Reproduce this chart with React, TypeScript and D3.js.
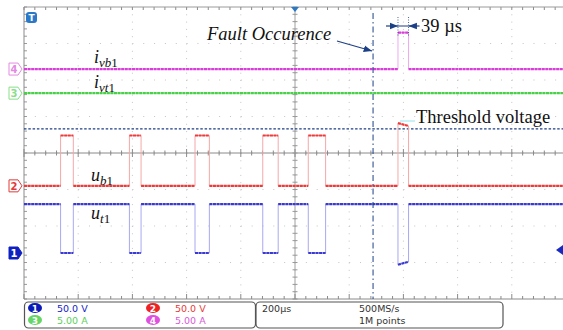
import React from "react";
import * as d3 from "d3";

// time in µs, 200 µs/div, 10 divisions
const gateOn = [135, 389, 631, 881, 1049];
const gateOff = [182, 432, 684, 938, 1113];
const faultStart = 1380;
const faultEnd = 1419;
const faultOccurence = 1288;

// levels (V or A)
const ub1Levels = { off: 0, on: 69, fault: [86, 82] };
const ut1Levels = { off: 67, on: 0, fault: [-16, -12] };
const ivb1Levels = { normal: 0, fault: 5 };
const ivt1Levels = { normal: 0 };
const thresholdVoltage = 78;

const statusRows = [
  { ch: "1", value: "50.0 V", color: "#1522c8", fill: "#0a1ab8", col: 0, row: 0 },
  { ch: "3", value: "5.00 A", color: "#5ccf5c", fill: "#66d466", col: 0, row: 1 },
  { ch: "2", value: "50.0 V", color: "#e83a3a", fill: "#ee2222", col: 1, row: 0 },
  { ch: "4", value: "5.00 A", color: "#d85ad8", fill: "#e050e0", col: 1, row: 1 },
];

const left = 24;
const top = 7;
const divW = 54.2;
const divH = 36.5;
const plotW = divW * 10;
const plotH = divH * 8;
const bottom = top + plotH;
const cx = left + divW * 5;
const cy = top + divH * 4;
const serif = "'Liberation Serif', 'Times New Roman', serif";

const x = d3.scaleLinear().domain([0, 2000]).range([left, left + plotW]);
const yDiv = d3.scaleLinear().domain([-4, 4]).range([bottom, top]);

const channels = {
  ch1: { offset: -2.74, perDiv: 50, color: "#3a3ad2", edge: "#a8a8f0" },
  ch2: { offset: -0.9, perDiv: 50, color: "#f03a3a", edge: "#f4a8a8" },
  ch3: { offset: 1.64, perDiv: 5, color: "#48d048", edge: "#a8e8a8" },
  ch4: { offset: 2.3, perDiv: 5, color: "#d83ed8", edge: "#eeaaee" },
};

type Pt = [number, number];

function switching(off: number, on: number, fault: number[]): Pt[] {
  const pts: Pt[] = [[0, off]];
  gateOn.forEach((t, i) => {
    pts.push([t, off], [t, on], [gateOff[i], on], [gateOff[i], off]);
  });
  pts.push([faultStart, off], [faultStart, fault[0]], [faultEnd, fault[1]], [faultEnd, off], [2000, off]);
  return pts;
}

const ub1 = switching(ub1Levels.off, ub1Levels.on, ub1Levels.fault);
const ut1 = switching(ut1Levels.off, ut1Levels.on, ut1Levels.fault);
const ivb1: Pt[] = [
  [0, ivb1Levels.normal],
  [faultStart, ivb1Levels.normal],
  [faultStart, ivb1Levels.fault],
  [faultEnd, ivb1Levels.fault],
  [faultEnd, ivb1Levels.normal],
  [2000, ivb1Levels.normal],
];
const ivt1: Pt[] = [
  [0, ivt1Levels.normal],
  [2000, ivt1Levels.normal],
];

function Trace({ data, ch }: { data: Pt[]; ch: keyof typeof channels }) {
  const c = channels[ch];
  const y = (v: number) => yDiv(c.offset + v / c.perDiv);
  const line = d3.line<Pt>().x((d) => x(d[0])).y((d) => y(d[1]));
  const segs: Pt[][] = [];
  for (let i = 0; i < data.length - 1; i++) {
    if (data[i][0] !== data[i + 1][0]) segs.push([data[i], data[i + 1]]);
  }
  return (
    <g>
      <path d={line(data) || ""} fill="none" stroke={c.edge} strokeWidth={1} />
      {segs.map((s, i) => (
        <path key={i} d={line(s) || ""} fill="none" stroke={c.color} strokeWidth={2.2} strokeDasharray="3,0.6" />
      ))}
    </g>
  );
}

function Marker({ ch, label, fill, stroke, text }: { ch: keyof typeof channels; label: string; fill: string; stroke: string; text: string }) {
  const yy = yDiv(channels[ch].offset);
  const p = `M9,${yy - 6} L18,${yy - 6} L22,${yy} L18,${yy + 6} L9,${yy + 6} Z`;
  return (
    <g>
      <path d={p} fill={fill} stroke={stroke} strokeWidth={1} />
      <text x={14} y={yy + 4} textAnchor="middle" fontSize={10} fontFamily="DejaVu Sans" fontWeight="bold" fill={text}>
        {label}
      </text>
    </g>
  );
}

function Sub({ x0, y0, main, sub }: { x0: number; y0: number; main: string; sub: string }) {
  return (
    <text x={x0} y={y0} style={{ fontFamily: serif }} fontSize={18} fill="#111">
      <tspan fontStyle="italic">{main}</tspan>
      <tspan fontStyle="italic" fontSize={13} dy={4}>{sub}</tspan>
      <tspan fontSize={13}>1</tspan>
    </text>
  );
}

export default function App() {
  const vGrid = d3.range(0, 11).map((i) => left + i * divW);
  const hGrid = d3.range(0, 9).map((i) => top + i * divH);
  const minorX = d3.range(0, 51).map((i) => left + (i * divW) / 5);
  const minorY = d3.range(0, 41).map((i) => top + (i * divH) / 5);
  const navy = "#1d3f86";
  const thY = yDiv(channels.ch2.offset + thresholdVoltage / channels.ch2.perDiv);
  const fx = x(faultOccurence);
  const f0 = x(faultStart);
  const f1 = x(faultEnd);

  return (
    <svg width={563} height={330} style={{ position: "absolute", left: 0, top: 0, background: "#fff" }}>
      <defs>
        <marker id="ah" viewBox="0 0 10 10" refX={10} refY={5} markerWidth={7} markerHeight={7} orient="auto">
          <path d="M0,1 L10,5 L0,9 Z" fill={navy} />
        </marker>
      </defs>
      {/* grid */}
      {vGrid.slice(1).map((gx, i) => (
        <line key={"v" + i} x1={gx} x2={gx} y1={top} y2={bottom} stroke="#c4c4c4" strokeWidth={1} strokeDasharray="1,6.3" />
      ))}
      {hGrid.slice(1, -1).map((gy, i) => (
        <line key={"h" + i} x1={left} x2={left + plotW} y1={gy} y2={gy} stroke="#c4c4c4" strokeWidth={1} strokeDasharray="1,9.84" />
      ))}
      {/* center axes */}
      <line x1={left} x2={left + plotW} y1={cy} y2={cy} stroke="#8a8a8a" strokeWidth={1} />
      <line x1={cx} x2={cx} y1={top} y2={bottom} stroke="#a0a0a0" strokeWidth={1} />
      {minorX.map((mx, i) => (
        <g key={"mx" + i} stroke="#8a8a8a" strokeWidth={1}>
          <line x1={mx} x2={mx} y1={cy - (i % 5 === 0 ? 4 : 2.5)} y2={cy + (i % 5 === 0 ? 4 : 2.5)} />
          <line x1={mx} x2={mx} y1={bottom} y2={bottom - (i % 5 === 0 ? 5 : 3)} />
          <line x1={mx} x2={mx} y1={top} y2={top + 3} />
        </g>
      ))}
      {minorY.map((my, i) => (
        <g key={"my" + i} stroke="#9a9a9a" strokeWidth={1}>
          <line x1={cx - 2.5} x2={cx + 2.5} y1={my} y2={my} />
          <line x1={left} x2={left + 3} y1={my} y2={my} />
        </g>
      ))}
      {/* frame */}
      <line x1={left} x2={left + plotW} y1={top} y2={top} stroke="#9a9a9a" />
      <line x1={left} x2={left + plotW} y1={bottom} y2={bottom} stroke="#8a8a8a" />
      <line x1={left} x2={left} y1={top} y2={bottom} stroke="#8a8a8a" />

      {/* threshold */}
      <line x1={left} x2={left + plotW} y1={thY} y2={thY} stroke={navy} strokeWidth={1.1} strokeDasharray="2.5,1.8" />

      {/* traces */}
      <Trace data={ivb1} ch="ch4" />
      <Trace data={ivt1} ch="ch3" />
      <Trace data={ub1} ch="ch2" />
      <Trace data={ut1} ch="ch1" />

      {/* fault occurrence line */}
      <line x1={fx} x2={fx} y1={top + 6} y2={bottom} stroke={navy} strokeWidth={1} strokeDasharray="6,3,1.5,3" />
      <line x1={337} y1={41} x2={fx - 1} y2={51} stroke={navy} strokeWidth={1.2} markerEnd="url(#ah)" />
      <text x={207} y={40} style={{ fontFamily: serif }} fontStyle="italic" fontSize={18.5} fill="#111">
        Fault Occurence
      </text>

      {/* 39 µs annotation */}
      <line x1={f0} x2={f0} y1={17} y2={36} stroke={navy} strokeWidth={0.8} strokeDasharray="1,1.5" />
      <line x1={f1} x2={f1} y1={17} y2={36} stroke={navy} strokeWidth={0.8} strokeDasharray="1,1.5" />
      <line x1={f0 - 12} x2={f0} y1={26} y2={26} stroke={navy} strokeWidth={1.2} markerEnd="url(#ah)" />
      <line x1={f1 + 11} x2={f1} y1={26} y2={26} stroke={navy} strokeWidth={1.2} markerEnd="url(#ah)" />
      <line x1={f0} x2={f1} y1={26} y2={26} stroke={navy} strokeWidth={1} />
      <text x={421} y={32} style={{ fontFamily: serif }} fontSize={18.5} fill="#111">
        39 µs
      </text>

      {/* threshold label */}
      <line x1={400} x2={415} y1={121} y2={121} stroke="#b8ecf4" strokeWidth={1.5} />
      <text x={416} y={123} style={{ fontFamily: serif }} fontSize={18.5} fill="#111">
        Threshold voltage
      </text>

      {/* trace labels */}
      <Sub x0={94} y0={63} main="i" sub="vb" />
      <Sub x0={94} y0={88} main="i" sub="vt" />
      <Sub x0={91} y0={181} main="u" sub="b" />
      <Sub x0={91} y0={219} main="u" sub="t" />

      {/* channel markers */}
      <Marker ch="ch4" label="4" fill="#fff" stroke="#e28ae2" text="#e28ae2" />
      <Marker ch="ch3" label="3" fill="#fff" stroke="#8ade8a" text="#8ade8a" />
      <Marker ch="ch2" label="2" fill="#fff" stroke="#e23a3a" text="#e23a3a" />
      <Marker ch="ch1" label="1" fill="#1020c0" stroke="#1020c0" text="#fff" />

      {/* trigger markers */}
      <rect x={26} y={12} width={11} height={11} rx={3} fill="#2a78c8" />
      <text x={31.5} y={21} textAnchor="middle" fontSize={9} fontFamily="DejaVu Sans" fontWeight="bold" fill="#fff">T</text>
      <path d={`M${cx - 4},${top} L${cx + 4},${top} L${cx},${top + 5} Z`} fill="#2a78c8" />
      <path d="M556,250 L563,245 L563,255 Z" fill="#1a2ac0" />
      <line x1={558} x2={563} y1={250} y2={250} stroke="#1a2ac0" strokeWidth={2} />

      {/* status bar */}
      <rect x={24.5} y={302} width={231} height={26} rx={4} fill="#fff" stroke="#555" strokeWidth={1.2} />
      <rect x={256} y={302} width={247} height={26} rx={4} fill="#fff" stroke="#555" strokeWidth={1.2} />
      {statusRows.map((r, i) => {
        const sx = 35 + r.col * 118;
        const sy = 308 + r.row * 12;
        return (
          <g key={i}>
            <ellipse cx={sx} cy={sy} rx={7} ry={5} fill={r.fill} />
            <text x={sx} y={sy + 3.5} textAnchor="middle" fontSize={9} fontFamily="DejaVu Sans" fontWeight="bold" fill="#fff">
              {r.ch}
            </text>
            <text x={sx + 22} y={sy + 3.5} fontSize={9.5} fontFamily="DejaVu Sans" fill={r.color}>
              {r.value}
            </text>
          </g>
        );
      })}
      <text x={262} y={312} fontSize={9.5} fontFamily="DejaVu Sans" fill="#333">200µs</text>
      <text x={359} y={312} fontSize={9.5} fontFamily="DejaVu Sans" fill="#333">500MS/s</text>
      <text x={359} y={324} fontSize={9.5} fontFamily="DejaVu Sans" fill="#333">1M points</text>
    </svg>
  );
}
